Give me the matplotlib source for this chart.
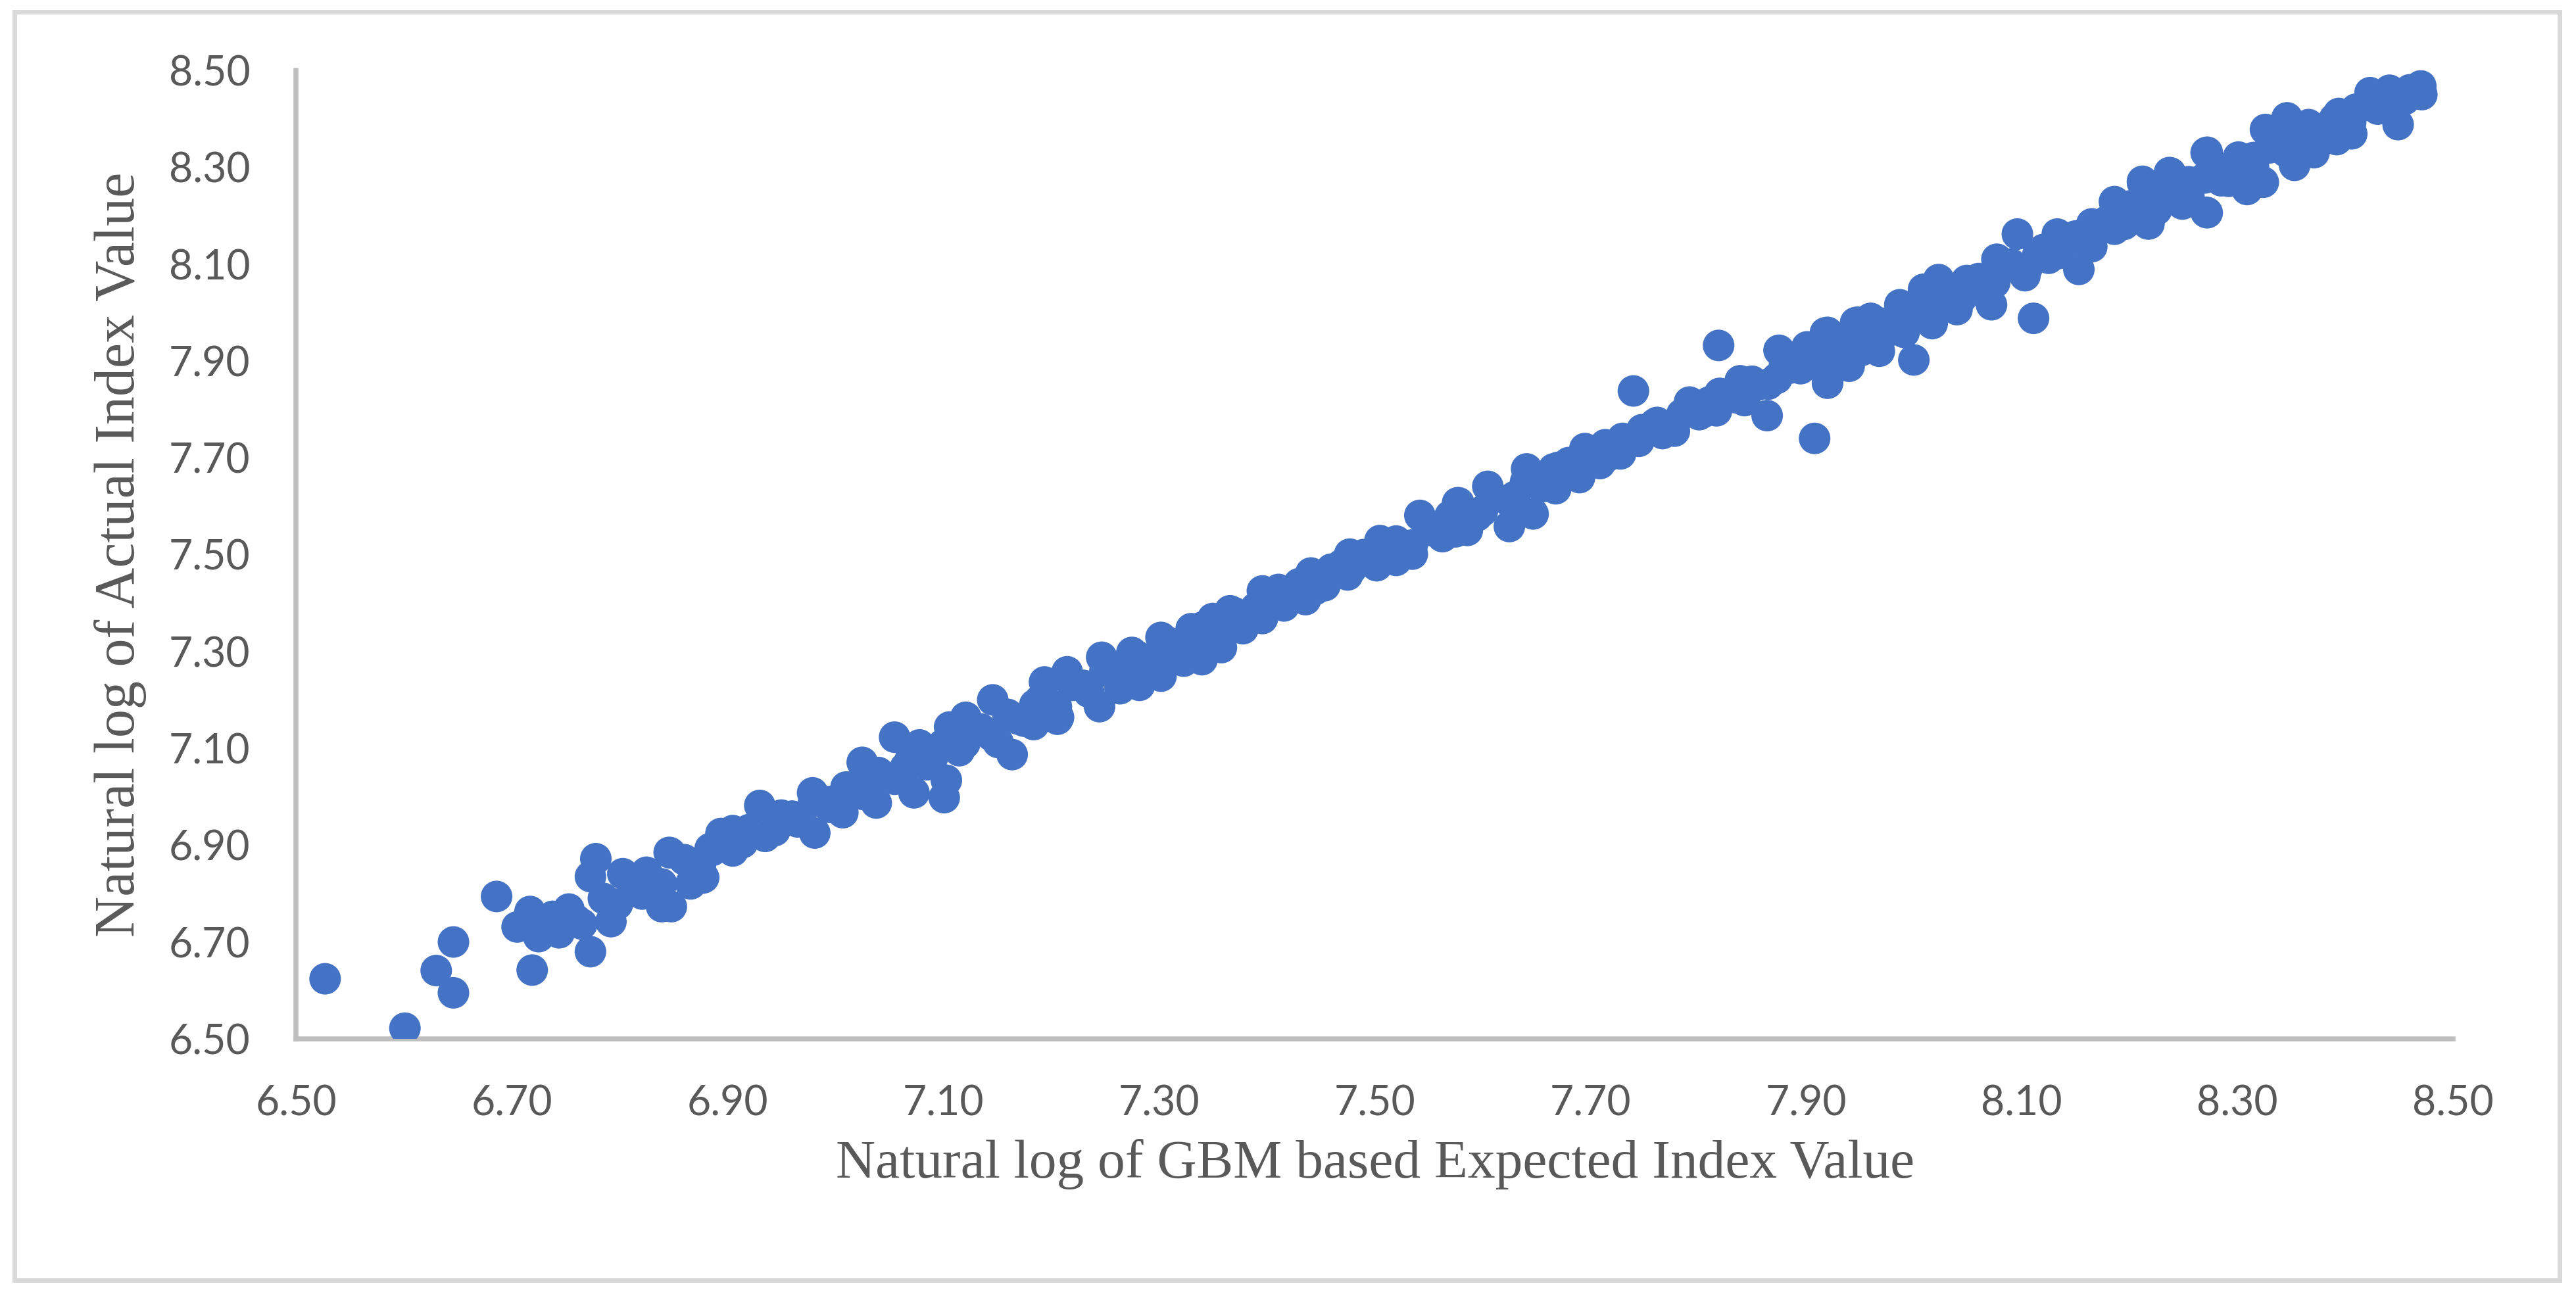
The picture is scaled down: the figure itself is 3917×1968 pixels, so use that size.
import matplotlib
matplotlib.use("Agg")
import matplotlib.pyplot as plt
from matplotlib.patches import Rectangle

# points, grouped by region of the band
low_x = [6.527, 6.601, 6.630, 6.646, 6.646, 6.686, 6.719, 6.717, 6.705, 6.725,
         6.738, 6.744, 6.753, 6.765, 6.773, 6.778, 6.773, 6.792, 6.798, 6.803,
         6.825, 6.821, 6.839, 6.848, 6.846, 6.839, 6.878, 6.884, 6.894,
         6.760, 6.785, 6.812, 6.866, 6.830]
low_y = [6.624, 6.522, 6.641, 6.595, 6.700, 6.794, 6.642, 6.763, 6.731, 6.711,
         6.753, 6.719, 6.768, 6.737, 6.680, 6.872, 6.835, 6.742, 6.778, 6.841,
         6.844, 6.799, 6.773, 6.773, 6.885, 6.820, 6.833, 6.893, 6.924,
         6.745, 6.790, 6.820, 6.820, 6.815]

mid1_x = [6.847, 6.877, 6.886, 6.914, 6.930, 6.944, 6.981, 6.979, 7.007, 7.025,
          7.038, 7.055, 7.073, 7.078, 7.101, 7.103, 7.106, 7.121, 7.146, 7.164,
          7.151, 7.184, 7.194, 7.207, 7.215,
          6.905, 6.960, 6.995, 7.015, 7.045, 7.065, 7.090, 7.120, 7.135, 7.170, 7.185]
mid1_y = [6.884, 6.832, 6.889, 6.905, 6.982, 6.930, 6.925, 7.008, 6.967, 7.071,
          6.987, 7.123, 7.008, 7.107, 6.998, 7.034, 7.144, 7.164, 7.200, 7.087,
          7.112, 7.149, 7.237, 7.164, 7.258,
          6.930, 6.960, 6.990, 7.020, 7.040, 7.060, 7.080, 7.110, 7.140, 7.160, 7.190]

mid2_x = [7.214, 7.247, 7.275, 7.302, 7.330, 7.350, 7.366, 7.396, 7.411, 7.441,
          7.477, 7.505, 7.542, 7.578,
          7.206, 7.245, 7.264, 7.282, 7.302, 7.323, 7.340, 7.358, 7.378, 7.396,
          7.416, 7.436, 7.454, 7.479, 7.502, 7.520, 7.535, 7.563, 7.586,
          7.230, 7.260, 7.290, 7.315, 7.345, 7.370, 7.390, 7.425, 7.450, 7.470,
          7.495, 7.515, 7.550, 7.570]
mid2_y = [7.249, 7.288, 7.298, 7.329, 7.347, 7.368, 7.384, 7.425, 7.428, 7.462,
          7.501, 7.529, 7.581, 7.607,
          7.160, 7.186, 7.223, 7.230, 7.249, 7.280, 7.283, 7.308, 7.347, 7.368,
          7.394, 7.407, 7.436, 7.472, 7.477, 7.488, 7.501, 7.537, 7.550,
          7.230, 7.255, 7.275, 7.305, 7.330, 7.355, 7.390, 7.415, 7.450, 7.480,
          7.500, 7.515, 7.550, 7.580]

mid3_x = [7.740, 7.819, 7.864, 7.908,
          7.577, 7.605, 7.641, 7.666, 7.695, 7.714, 7.748, 7.762, 7.792, 7.820,
          7.839, 7.875, 7.901, 7.918, 7.946,
          7.575, 7.625, 7.647, 7.668, 7.690, 7.709, 7.728, 7.767, 7.778, 7.801,
          7.817, 7.843, 7.873, 7.920, 7.952,
          7.600, 7.630, 7.655, 7.680, 7.705, 7.735, 7.755, 7.785, 7.810, 7.830,
          7.855, 7.885, 7.910, 7.930]
mid3_y = [7.838, 7.932, 7.787, 7.740,
          7.607, 7.641, 7.677, 7.677, 7.719, 7.727, 7.758, 7.773, 7.815, 7.833,
          7.859, 7.922, 7.929, 7.958, 7.979,
          7.547, 7.558, 7.584, 7.636, 7.659, 7.688, 7.708, 7.750, 7.755, 7.789,
          7.797, 7.818, 7.864, 7.854, 7.922,
          7.590, 7.620, 7.650, 7.690, 7.705, 7.735, 7.760, 7.790, 7.815, 7.830,
          7.850, 7.885, 7.900, 7.930]

high_x = [8.000, 8.111,
          7.920, 7.948, 7.960, 7.987, 8.009, 8.023, 8.049, 8.077, 8.096, 8.133,
          8.165, 8.186, 8.212, 8.237, 8.272,
          7.920, 7.940, 7.968, 7.991, 8.017, 8.040, 8.072, 8.103, 8.125, 8.153,
          8.165, 8.186, 8.217, 8.249, 8.272, 8.292,
          7.955, 7.975, 8.000, 8.020, 8.045, 8.065, 8.090, 8.115, 8.140, 8.160,
          8.180, 8.200, 8.225, 8.255, 8.280]
high_y = [7.902, 7.988,
          7.959, 7.980, 7.988, 8.016, 8.048, 8.068, 8.066, 8.110, 8.162, 8.162,
          8.183, 8.229, 8.271, 8.289, 8.331,
          7.855, 7.889, 7.920, 7.959, 7.977, 8.006, 8.016, 8.076, 8.112, 8.089,
          8.136, 8.172, 8.183, 8.224, 8.206, 8.271,
          7.935, 7.960, 7.990, 8.020, 8.040, 8.060, 8.100, 8.120, 8.140, 8.160,
          8.190, 8.220, 8.245, 8.270, 8.300]

top_x = [8.212, 8.238, 8.271, 8.301, 8.326, 8.346, 8.366, 8.394, 8.423, 8.441,
         8.470, 8.471,
         8.218, 8.271, 8.309, 8.324, 8.353, 8.371, 8.392, 8.406, 8.449,
         8.250, 8.290, 8.315, 8.340, 8.360, 8.385, 8.410, 8.430, 8.455, 8.460]
top_y = [8.268, 8.288, 8.330, 8.321, 8.378, 8.402, 8.388, 8.411, 8.454, 8.459,
         8.468, 8.450,
         8.183, 8.207, 8.254, 8.269, 8.304, 8.330, 8.357, 8.369, 8.388,
         8.250, 8.290, 8.320, 8.350, 8.360, 8.385, 8.420, 8.420, 8.440, 8.460]

# points hidden in the solid core of the band
core_x = [6.860, 6.875, 6.890, 6.905, 6.920, 6.935, 6.950, 6.965, 6.980, 6.995,
          7.010, 7.025, 7.040, 7.055, 7.070, 7.085, 7.100, 7.115, 7.130, 7.145,
          7.160, 7.175, 7.190, 7.205, 7.220, 7.235, 7.250, 7.265, 7.280, 7.295,
          7.310, 7.325, 7.340, 7.355, 7.370, 7.385, 7.400, 7.415, 7.430, 7.445,
          7.460, 7.475, 7.490, 7.505, 7.520, 7.535, 7.550, 7.565, 7.580, 7.595,
          7.610, 7.625, 7.640, 7.655, 7.670, 7.685, 7.700, 7.715, 7.730, 7.745,
          7.760, 7.775, 7.790, 7.805, 7.820, 7.835, 7.850, 7.865, 7.880, 7.895,
          7.910, 7.925, 7.940, 7.955, 7.970, 7.985, 8.000, 8.015, 8.030, 8.045,
          8.060, 8.075, 8.090, 8.105, 8.120, 8.135, 8.150, 8.165, 8.180, 8.195,
          8.210, 8.225, 8.240, 8.255, 8.270, 8.285, 8.300, 8.315, 8.330, 8.345,
          8.360, 8.375, 8.390, 8.405, 8.420, 8.435, 8.450]
core_y = [6.870, 6.858, 6.900, 6.888, 6.932, 6.918, 6.962, 6.948, 6.990, 6.978,
          7.020, 7.005, 7.050, 7.036, 7.080, 7.066, 7.108, 7.095, 7.140, 7.126,
          7.170, 7.156, 7.200, 7.186, 7.230, 7.216, 7.260, 7.246, 7.290, 7.276,
          7.318, 7.306, 7.350, 7.336, 7.380, 7.368, 7.410, 7.398, 7.440, 7.428,
          7.470, 7.458, 7.500, 7.490, 7.528, 7.520, 7.560, 7.550, 7.590, 7.580,
          7.620, 7.610, 7.650, 7.640, 7.680, 7.672, 7.710, 7.702, 7.740, 7.734,
          7.770, 7.764, 7.800, 7.794, 7.828, 7.824, 7.858, 7.852, 7.890, 7.884,
          7.918, 7.912, 7.948, 7.942, 7.978, 7.972, 8.008, 8.002, 8.040, 8.032,
          8.070, 8.062, 8.100, 8.092, 8.130, 8.122, 8.158, 8.152, 8.190, 8.182,
          8.220, 8.212, 8.250, 8.240, 8.278, 8.272, 8.308, 8.300, 8.340, 8.332,
          8.370, 8.362, 8.400, 8.392, 8.428, 8.422, 8.452]

xs = low_x + mid1_x + mid2_x + mid3_x + high_x + top_x + core_x
ys = low_y + mid1_y + mid2_y + mid3_y + high_y + top_y + core_y

ticks = [6.50, 6.70, 6.90, 7.10, 7.30, 7.50, 7.70, 7.90, 8.10, 8.30, 8.50]
tick_labels = ["%.2f" % t for t in ticks]

grey_txt = "#595959"
fig = plt.figure(figsize=(39.17, 19.68), dpi=100)
fig.patches.append(Rectangle((0.0056, 0.0107), 0.988, 0.980, transform=fig.transFigure,
                             fill=False, edgecolor="#d9d9d9", linewidth=5))

ax = fig.add_axes([0.1149, 0.1972, 0.8374, 0.7484])
ax.scatter(xs, ys, s=1195, color="#4472C4", edgecolors="none", zorder=3)

ax.set_xlim(6.5, 8.5)
ax.set_ylim(6.5, 8.5)
ax.set_xticks(ticks)
ax.set_xticklabels(tick_labels)
ax.set_yticks(ticks)
ax.set_yticklabels(tick_labels)
ax.tick_params(length=0, pad=50, labelsize=45, labelcolor=grey_txt)
for lab in ax.get_xticklabels() + ax.get_yticklabels():
    lab.set_fontfamily("Lato")

for s in ["top", "right"]:
    ax.spines[s].set_visible(False)
for s in ["left", "bottom"]:
    ax.spines[s].set_color("#bfbfbf")
    ax.spines[s].set_linewidth(5.4)

fig.text(0.5339, 0.0899, "Natural log of GBM based Expected Index Value",
         family="Liberation Serif", fontsize=60, color=grey_txt,
         ha="center", va="baseline")
fig.text(0.0521, 0.5716, "Natural log of Actual Index Value",
         family="Liberation Serif", fontsize=62, color=grey_txt,
         rotation=90, rotation_mode="anchor", ha="center", va="baseline")

fig.savefig("out.png", dpi=100)
